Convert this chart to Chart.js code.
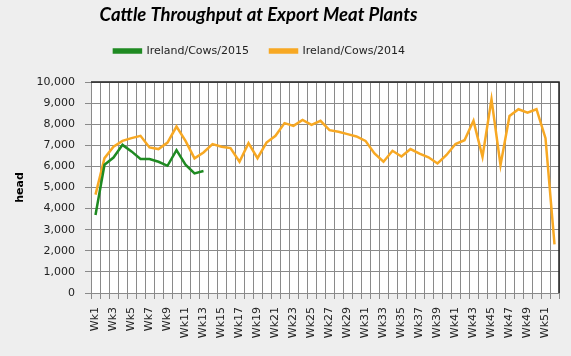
<!DOCTYPE html>
<html>
<head>
<meta charset="utf-8">
<script src="https://cdn.jsdelivr.net/npm/chart.js@4/dist/chart.umd.min.js"></script>
<style>
html,body{margin:0;padding:0;background:#eeeeee;}
#wrap{width:571px;height:356px;}
</style>
</head>
<body>
<div id="wrap"><canvas id="c" width="571" height="356"></canvas></div>
<script>
const weeks = ['Wk1','Wk2','Wk3','Wk4','Wk5','Wk6','Wk7','Wk8','Wk9','Wk10','Wk11','Wk12','Wk13','Wk14','Wk15','Wk16','Wk17','Wk18','Wk19','Wk20','Wk21','Wk22','Wk23','Wk24','Wk25','Wk26','Wk27','Wk28','Wk29','Wk30','Wk31','Wk32','Wk33','Wk34','Wk35','Wk36','Wk37','Wk38','Wk39','Wk40','Wk41','Wk42','Wk43','Wk44','Wk45','Wk46','Wk47','Wk48','Wk49','Wk50','Wk51','Wk52'];
const cows2015 = [3700, 6080, 6420, 7020, 6710, 6350, 6350, 6220, 6030, 6770, 6080, 5670, 5780];
const cows2014 = [4660, 6390, 6930, 7210, 7340, 7450, 6900, 6820, 7130, 7890, 7210, 6380, 6660, 7060, 6930, 6870, 6220, 7100, 6390, 7130, 7450, 8050, 7920, 8200, 7970, 8160, 7720, 7640, 7530, 7420, 7210, 6610, 6220, 6740, 6470, 6820, 6610, 6430, 6140, 6540, 7060, 7240, 8160, 6460, 9180, 6060, 8390, 8710, 8550, 8710, 7340, 2300];
const seriesNames = ['Ireland/Cows/2015', 'Ireland/Cows/2014'];
const chartTitle = 'Cattle Throughput at Export Meat Plants';
const yTitle = 'head';

const plotBg = {
  id: 'plotBg',
  beforeLayout(chart) {
    const lg = chart.legend;
    if (lg && !lg._patched) {
      lg._patched = true;
      const of = lg.fit;
      lg.fit = function() { of.call(this); this.height += 15.5; };
      const od = lg.draw;
      lg.draw = function(a) { const c = this.ctx; c.save(); c.translate(-20, 0); od.call(this, a); c.restore(); };
    }
    const tt = chart.titleBlock;
    if (tt && !tt._patched) {
      tt._patched = true;
      const od2 = tt.draw;
      tt.draw = function(a) { const c = this.ctx; c.save(); c.translate(-21, 0); od2.call(this, a); c.restore(); };
    }
  },
  beforeDraw(chart) {
    const {ctx, chartArea: a} = chart;
    ctx.save();
    ctx.fillStyle = '#ffffff';
    ctx.fillRect(a.left, a.top, a.right - a.left, a.bottom - a.top);
    ctx.restore();
  },
  afterDraw(chart) {
    const {ctx, chartArea: a} = chart;
    ctx.save();
    ctx.strokeStyle = '#222';
    ctx.lineWidth = 1.5;
    ctx.beginPath();
    ctx.moveTo(a.left, a.top);
    ctx.lineTo(a.right, a.top);
    ctx.lineTo(a.right, a.bottom);
    ctx.stroke();
    ctx.restore();
  }
};

Chart.defaults.font.family = '"DejaVu Sans", sans-serif';
Chart.defaults.font.size = 11;
Chart.defaults.color = '#222';

new Chart(document.getElementById('c'), {
  type: 'line',
  data: {
    labels: weeks,
    datasets: [
      {label: seriesNames[0], data: cows2015, borderColor: '#1f8a22', backgroundColor: '#1f8a22', borderWidth: 2.5, pointRadius: 0, tension: 0},
      {label: seriesNames[1], data: cows2014, borderColor: '#f7a823', backgroundColor: '#f7a823', borderWidth: 2.5, pointRadius: 0, tension: 0}
    ]
  },
  options: {
    responsive: false,
    animation: false,
    layout: {padding: {left: 0, right: 12, top: 0, bottom: 0}},
    plugins: {
      title: {display: true, text: chartTitle, color: '#000', font: {family: 'Lato, sans-serif', size: 18.5, weight: 'bold', style: 'italic', lineHeight: 1}, padding: {top: 6, bottom: 0}},
      legend: {display: true, labels: {boxWidth: 27, boxHeight: 3, padding: 21, color: '#222', font: {size: 11}}},
      tooltip: {enabled: false}
    },
    scales: {
      x: {
        offset: true,
        grid: {offset: true, color: '#8a8a8a', lineWidth: 1, tickLength: 6},
        border: {color: '#8a8a8a'},
        ticks: {autoSkip: false, minRotation: 90, maxRotation: 90, padding: 8, color: '#222',
          callback: function(v, i) { return i % 2 === 0 ? this.getLabelForValue(v) : ''; }},
        afterFit(s) { s.height = 63; s.paddingRight = 0; s.paddingLeft = 0; }
      },
      y: {
        min: 0, max: 10000,
        grid: {color: '#8a8a8a', lineWidth: 1, tickLength: 6},
        border: {color: '#8a8a8a'},
        ticks: {stepSize: 1000, padding: 10, color: '#222', callback: v => v.toLocaleString('en-US')},
        title: {display: true, text: yTitle, color: '#000', font: {size: 11, weight: 'bold'}, padding: {top: 14, bottom: 0}},
        afterFit(s) { s.width = 91; }
      }
    }
  },
  plugins: [plotBg]
});
</script>
</body>
</html>
